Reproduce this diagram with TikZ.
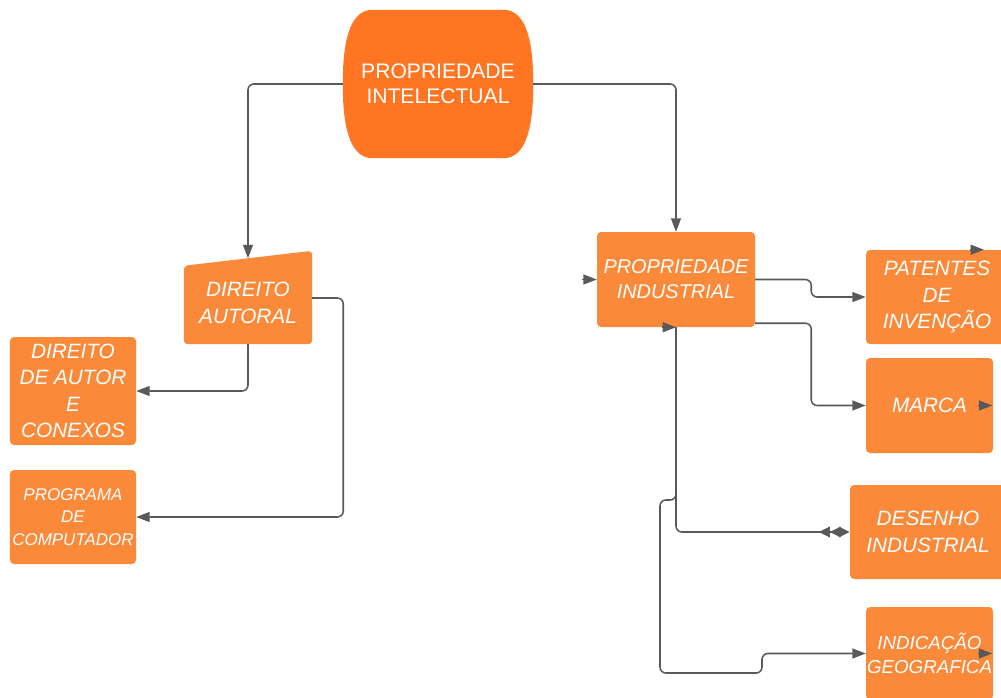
\documentclass[tikz,border=0pt]{standalone}
\usepackage{fontspec}
\setmainfont{Liberation Sans}
\usetikzlibrary{arrows.meta,positioning,calc,backgrounds}
\definecolor{Flame}{HTML}{FF7521}
\definecolor{Tang}{HTML}{FA893A}
\definecolor{Wire}{HTML}{595959}
\tikzset{
  >={Triangle[length=11.5pt,width=8.5pt]},
  box/.style={rectangle,rounded corners=3.5pt,fill=Tang,draw=none,text=white,align=center,inner ysep=1pt,inner xsep=0pt,font=\fontsize{17.7}{22.5}\selectfont\itshape},
  head/.style={draw=none,text=white,align=center,inner sep=0pt,font=\fontsize{18}{21.5}\selectfont},
  conn/.style={->,draw=Wire,line width=1.3pt,rounded corners=5pt},
  stub/.style={->,draw=Wire,line width=1.3pt},
  twin/.style={-{Triangle[reversed,length=9.5pt,width=9pt] Triangle[reversed,length=9.5pt,width=9pt,sep=-2pt] Triangle[length=9.5pt,width=9pt]}}
}

\begin{document}
\begin{tikzpicture}[x=0.03cm,y=-0.03cm]
  \useasboundingbox (0,0) rectangle (1001,698);
  % top
  \node[head,minimum width=5.7cm,minimum height=4.44cm] (pint) at (438,84) {PROPRIEDADE\\INTELECTUAL};
  \begin{scope}[on background layer]
    \fill[Flame] ($(pint.north west)+(30,0)$) -- ($(pint.north east)+(-30,0)$)
      .. controls ($(pint.north east)+(-6,0)$) and ($(pint.east)+(0,-40)$) .. (pint.east)
      .. controls ($(pint.east)+(0,40)$) and ($(pint.south east)+(-6,0)$) .. ($(pint.south east)+(-30,0)$)
      -- ($(pint.south west)+(30,0)$)
      .. controls ($(pint.south west)+(6,0)$) and ($(pint.west)+(0,40)$) .. (pint.west)
      .. controls ($(pint.west)+(0,-40)$) and ($(pint.north west)+(6,0)$) .. cycle;
  \end{scope}
  % left branch
  \node[box,fill=none,minimum width=3.84cm,minimum height=2.46cm] (da) at (248,303) {DIREITO\\AUTORAL};
  \begin{scope}[on background layer]
    \fill[Tang,rounded corners=3.5pt] ($(da.north west)+(0,4)$) -- ($(da.north east)+(0,-11)$) -- (da.south east) -- (da.south west) -- cycle;
  \end{scope}
  \node[box,minimum width=3.78cm,minimum height=3.24cm] (dda) at (73,391) {DIREITO\\DE AUTOR\\E\\CONEXOS};
  \node[box,minimum width=3.78cm,minimum height=2.82cm,font=\fontsize{14.5}{19.5}\selectfont\itshape] (prog) at (73,517) {PROGRAMA\\DE\\COMPUTADOR};
  % right branch
  \node[box,minimum width=4.74cm,minimum height=2.85cm,font=\fontsize{17}{21.5}\selectfont\itshape] (pi) at (676,279.5) {PROPRIEDADE\\INDUSTRIAL};
  \node[box,minimum width=4.26cm,minimum height=2.82cm] (pat) at (937,297) {PATENTES\\DE\\INVENÇÃO};
  \node[box,minimum width=3.81cm,minimum height=2.85cm] (mar) at (929.5,405.5) {MARCA};
  \node[box,minimum width=4.68cm,minimum height=2.82cm] (dsn) at (928,532) {DESENHO\\INDUSTRIAL};
  \node[box,minimum width=3.81cm,minimum height=2.79cm,font=\fontsize{16}{21}\selectfont\itshape] (ig) at (929.5,653.5) {INDICAÇÃO\\GEOGRAFICA};

  \coordinate (daTop) at ($(da.north)+(0,-3.5)$);
  \draw[conn] (pint.west) -| (daTop);
  \draw[conn] (pint.east) -| (pi.north);
  \draw[conn] (da.south) |- (dda.east);
  \draw[conn] ($(da.east)+(0,-5)$) -- ++(31,0) |- (prog.east);
  \draw[conn] (pi.east) -- ++(56,0) |- (pat.west);
  \draw[conn] ($(pi.south east)+(0,-4)$) -- ++(56,0) |- (mar.west);
  \draw[conn,twin] (pi.south) |- (dsn.west);
  \draw[conn,<-] (ig.west) -- (762,653.5) -- (762,673) -- (660,673) -- (660,500) -- (676,500) -- (pi.south);
  % loose tips
  \draw[stub] ($(pi.west)+(-15,0)$) -- (pi.west);
  \draw[stub] ($(pi.south)+(-14,0)$) -- (pi.south);
  \draw[stub] ($(pat.north)+(33,0)$) -- ++(14,0);
  \draw[stub] ($(mar.east)+(-15,0)$) -- ++(14,0);
  \draw[stub] ($(ig.east)+(-15,0)$) -- ++(14,0);
\end{tikzpicture}
\end{document}
